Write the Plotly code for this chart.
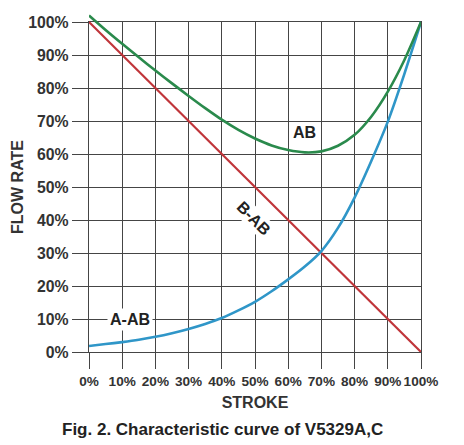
import plotly.graph_objects as go

stroke = [0, 5, 10, 15, 20, 25, 30, 35, 40, 45, 50, 55, 60, 65, 70, 75, 80, 85, 90, 95, 100]
ab = [102, 97.6, 93.4, 89.3, 85.3, 81.4, 77.6, 73.9, 70.4, 67.3, 64.7, 62.6, 61.2, 60.5,
      60.8, 62.5, 65.8, 71.3, 78.9, 88.5, 100]
a_ab = [1.8, 2.4, 3, 3.7, 4.6, 5.7, 7, 8.5, 10.3, 12.6, 15.2, 18.4, 22, 25.9, 30.6,
        37.6, 46.8, 57.8, 69.8, 84.3, 100]
b_ab_x = [0, 100]
b_ab = [100, 0]

tick_vals = [0, 10, 20, 30, 40, 50, 60, 70, 80, 90, 100]
tick_text = ["0%", "10%", "20%", "30%", "40%", "50%", "60%", "70%", "80%", "90%", "100%"]

W, H = 464, 445
mt, mb, ml, mr = 4, 101, 81, 51
plot_h = H - mt - mb
main_h = 330
dom_top = main_h / plot_h

BOLD = dict(family="Liberation Sans, Arial, sans-serif", weight="bold", color="#333333")
GRID = "#454545"

fig = go.Figure()
fig.add_trace(go.Scatter(x=b_ab_x, y=b_ab, mode="lines", xaxis="x2", yaxis="y2",
                         line=dict(color="#c0353a", width=2.2), showlegend=False))
fig.add_trace(go.Scatter(x=stroke, y=a_ab, mode="lines", xaxis="x2", yaxis="y2",
                         line=dict(color="#2f96c8", width=2.6, shape="spline", smoothing=0.8),
                         showlegend=False))
fig.add_trace(go.Scatter(x=stroke, y=ab, mode="lines", xaxis="x2", yaxis="y2",
                         line=dict(color="#2a8a4c", width=2.6, shape="spline", smoothing=0.8),
                         showlegend=False))

fig.update_layout(
    width=W, height=H,
    margin=dict(l=ml, r=mr, t=mt, b=mb, autoexpand=False),
    paper_bgcolor="white", plot_bgcolor="rgba(0,0,0,0)",
    xaxis=dict(range=[0, 100], domain=[0, 1], tickvals=tick_vals, ticktext=tick_text,
               tickangle=0,
               showgrid=True, gridcolor=GRID, gridwidth=1.4,
               ticks="outside", ticklen=16, tickcolor=GRID, tickwidth=1.4,
               showline=True, linecolor=GRID, linewidth=1.4, mirror=True,
               zeroline=False, tickfont=dict(BOLD, size=13.6), automargin=False,
               title=dict(text="STROKE", font=dict(BOLD, size=16), standoff=9)),
    yaxis=dict(range=[0, 100], domain=[0, dom_top], tickvals=tick_vals, ticktext=tick_text,
               showgrid=True, gridcolor=GRID, gridwidth=1.4,
               ticks="outside", ticklen=16, tickcolor=GRID, tickwidth=1.4,
               showline=True, linecolor=GRID, linewidth=1.4, mirror=True,
               zeroline=False, tickfont=dict(BOLD, size=15.8), automargin=False,
               title=dict(text="FLOW RATE", font=dict(BOLD, size=16), standoff=0)),
    xaxis2=dict(range=[0, 100], domain=[0, 1], overlaying="x", visible=False),
    yaxis2=dict(range=[0, 100 * plot_h / main_h], domain=[0, 1], anchor="x2",
                visible=False),
)

fig.add_annotation(x=65, y=66.5, text="AB", showarrow=False, xref="x", yref="y",
                   font=dict(BOLD, size=16, color="#222222"))
fig.add_annotation(x=49.7, y=40.6, text="B-AB", showarrow=False, xref="x", yref="y",
                   textangle=45, bgcolor="white",
                   font=dict(BOLD, size=16, color="#222222"))
fig.add_annotation(x=12.3, y=10, text="A-AB", showarrow=False, xref="x", yref="y",
                   bgcolor="white", borderpad=2,
                   font=dict(BOLD, size=16, color="#222222"))
fig.add_annotation(x=(222 - 89) / 332, y=(H - mb - 421) / plot_h, xref="paper", yref="paper",
                   xanchor="center", yanchor="middle", showarrow=False,
                   text="Fig. 2. Characteristic curve of V5329A,C",
                   font=dict(BOLD, size=17, color="#222222"))

fig.write_html("out.html")
